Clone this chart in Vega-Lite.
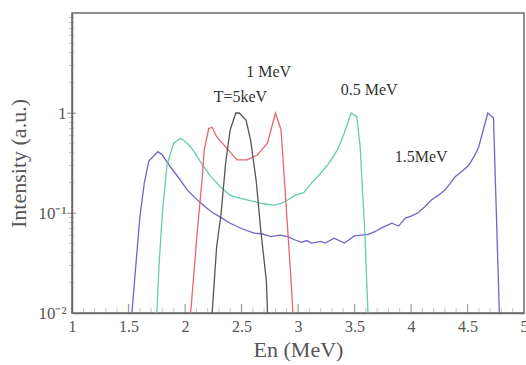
{
  "$schema": "https://vega.github.io/schema/vega-lite/v6.json",
  "width": 452,
  "height": 300,
  "autosize": {"type": "none"},
  "padding": {"left": 72, "top": 13, "right": 2, "bottom": 52},
  "background": "white",
  "config": {
    "view": {"stroke": "#6b6b6b", "strokeWidth": 1.5},
    "font": "Liberation Serif"
  },
  "datasets": {
    "spectra": [
      {"series": "1.5MeV", "E": 1.52, "I": 0.005},
      {"series": "1.5MeV", "E": 1.53, "I": 0.01},
      {"series": "1.5MeV", "E": 1.6, "I": 0.09},
      {"series": "1.5MeV", "E": 1.64, "I": 0.2},
      {"series": "1.5MeV", "E": 1.68, "I": 0.33},
      {"series": "1.5MeV", "E": 1.76, "I": 0.41},
      {"series": "1.5MeV", "E": 1.8, "I": 0.38},
      {"series": "1.5MeV", "E": 1.87, "I": 0.29},
      {"series": "1.5MeV", "E": 1.95, "I": 0.22},
      {"series": "1.5MeV", "E": 2.02, "I": 0.17},
      {"series": "1.5MeV", "E": 2.08, "I": 0.145},
      {"series": "1.5MeV", "E": 2.14, "I": 0.126},
      {"series": "1.5MeV", "E": 2.2, "I": 0.11},
      {"series": "1.5MeV", "E": 2.25, "I": 0.1},
      {"series": "1.5MeV", "E": 2.32, "I": 0.09},
      {"series": "1.5MeV", "E": 2.4, "I": 0.079},
      {"series": "1.5MeV", "E": 2.5, "I": 0.07},
      {"series": "1.5MeV", "E": 2.61, "I": 0.063},
      {"series": "1.5MeV", "E": 2.68, "I": 0.062},
      {"series": "1.5MeV", "E": 2.76, "I": 0.058},
      {"series": "1.5MeV", "E": 2.84, "I": 0.06},
      {"series": "1.5MeV", "E": 2.91, "I": 0.058},
      {"series": "1.5MeV", "E": 2.97, "I": 0.054},
      {"series": "1.5MeV", "E": 3.03, "I": 0.051},
      {"series": "1.5MeV", "E": 3.08, "I": 0.053},
      {"series": "1.5MeV", "E": 3.12, "I": 0.05},
      {"series": "1.5MeV", "E": 3.2, "I": 0.052},
      {"series": "1.5MeV", "E": 3.24, "I": 0.05},
      {"series": "1.5MeV", "E": 3.32, "I": 0.056},
      {"series": "1.5MeV", "E": 3.41, "I": 0.05},
      {"series": "1.5MeV", "E": 3.5, "I": 0.059},
      {"series": "1.5MeV", "E": 3.56, "I": 0.06},
      {"series": "1.5MeV", "E": 3.62, "I": 0.061},
      {"series": "1.5MeV", "E": 3.68, "I": 0.065},
      {"series": "1.5MeV", "E": 3.74, "I": 0.071},
      {"series": "1.5MeV", "E": 3.83, "I": 0.079},
      {"series": "1.5MeV", "E": 3.89, "I": 0.074},
      {"series": "1.5MeV", "E": 3.95, "I": 0.089},
      {"series": "1.5MeV", "E": 4.0, "I": 0.093},
      {"series": "1.5MeV", "E": 4.06, "I": 0.1},
      {"series": "1.5MeV", "E": 4.12, "I": 0.115},
      {"series": "1.5MeV", "E": 4.18, "I": 0.135},
      {"series": "1.5MeV", "E": 4.24, "I": 0.15},
      {"series": "1.5MeV", "E": 4.3, "I": 0.17},
      {"series": "1.5MeV", "E": 4.35, "I": 0.2},
      {"series": "1.5MeV", "E": 4.39, "I": 0.23},
      {"series": "1.5MeV", "E": 4.45, "I": 0.26},
      {"series": "1.5MeV", "E": 4.51, "I": 0.3},
      {"series": "1.5MeV", "E": 4.56, "I": 0.37},
      {"series": "1.5MeV", "E": 4.6, "I": 0.46},
      {"series": "1.5MeV", "E": 4.64, "I": 0.68},
      {"series": "1.5MeV", "E": 4.68, "I": 1.0},
      {"series": "1.5MeV", "E": 4.73, "I": 0.89},
      {"series": "1.5MeV", "E": 4.79, "I": 0.005},

      {"series": "0.5 MeV", "E": 1.745, "I": 0.005},
      {"series": "0.5 MeV", "E": 1.75, "I": 0.01},
      {"series": "0.5 MeV", "E": 1.77, "I": 0.03},
      {"series": "0.5 MeV", "E": 1.8, "I": 0.1},
      {"series": "0.5 MeV", "E": 1.84, "I": 0.3},
      {"series": "0.5 MeV", "E": 1.9, "I": 0.5},
      {"series": "0.5 MeV", "E": 1.96, "I": 0.56},
      {"series": "0.5 MeV", "E": 2.0, "I": 0.52},
      {"series": "0.5 MeV", "E": 2.05, "I": 0.46},
      {"series": "0.5 MeV", "E": 2.1, "I": 0.38},
      {"series": "0.5 MeV", "E": 2.14, "I": 0.32},
      {"series": "0.5 MeV", "E": 2.23, "I": 0.23},
      {"series": "0.5 MeV", "E": 2.32, "I": 0.18},
      {"series": "0.5 MeV", "E": 2.4, "I": 0.15},
      {"series": "0.5 MeV", "E": 2.49, "I": 0.14},
      {"series": "0.5 MeV", "E": 2.55, "I": 0.135},
      {"series": "0.5 MeV", "E": 2.61, "I": 0.13},
      {"series": "0.5 MeV", "E": 2.7, "I": 0.123},
      {"series": "0.5 MeV", "E": 2.79, "I": 0.12},
      {"series": "0.5 MeV", "E": 2.85, "I": 0.125},
      {"series": "0.5 MeV", "E": 2.91, "I": 0.135},
      {"series": "0.5 MeV", "E": 2.97, "I": 0.15},
      {"series": "0.5 MeV", "E": 3.05, "I": 0.16},
      {"series": "0.5 MeV", "E": 3.12, "I": 0.2},
      {"series": "0.5 MeV", "E": 3.2, "I": 0.25},
      {"series": "0.5 MeV", "E": 3.27, "I": 0.31},
      {"series": "0.5 MeV", "E": 3.35, "I": 0.43},
      {"series": "0.5 MeV", "E": 3.41, "I": 0.63},
      {"series": "0.5 MeV", "E": 3.47, "I": 1.0},
      {"series": "0.5 MeV", "E": 3.52, "I": 0.92},
      {"series": "0.5 MeV", "E": 3.55, "I": 0.46},
      {"series": "0.5 MeV", "E": 3.59, "I": 0.068},
      {"series": "0.5 MeV", "E": 3.63, "I": 0.005},

      {"series": "1 MeV", "E": 2.04, "I": 0.005},
      {"series": "1 MeV", "E": 2.05, "I": 0.01},
      {"series": "1 MeV", "E": 2.11, "I": 0.068},
      {"series": "1 MeV", "E": 2.15, "I": 0.21},
      {"series": "1 MeV", "E": 2.17, "I": 0.43},
      {"series": "1 MeV", "E": 2.21, "I": 0.7},
      {"series": "1 MeV", "E": 2.24, "I": 0.72},
      {"series": "1 MeV", "E": 2.28, "I": 0.58},
      {"series": "1 MeV", "E": 2.38, "I": 0.43},
      {"series": "1 MeV", "E": 2.46, "I": 0.34},
      {"series": "1 MeV", "E": 2.55, "I": 0.34},
      {"series": "1 MeV", "E": 2.64, "I": 0.38},
      {"series": "1 MeV", "E": 2.73, "I": 0.5},
      {"series": "1 MeV", "E": 2.8, "I": 1.0},
      {"series": "1 MeV", "E": 2.85, "I": 0.68},
      {"series": "1 MeV", "E": 2.89, "I": 0.145},
      {"series": "1 MeV", "E": 2.94, "I": 0.02},
      {"series": "1 MeV", "E": 2.97, "I": 0.005},

      {"series": "T=5keV", "E": 2.23, "I": 0.005},
      {"series": "T=5keV", "E": 2.24, "I": 0.01},
      {"series": "T=5keV", "E": 2.28, "I": 0.046},
      {"series": "T=5keV", "E": 2.32, "I": 0.1},
      {"series": "T=5keV", "E": 2.36, "I": 0.32},
      {"series": "T=5keV", "E": 2.4, "I": 0.68},
      {"series": "T=5keV", "E": 2.45, "I": 1.0},
      {"series": "T=5keV", "E": 2.48, "I": 1.0},
      {"series": "T=5keV", "E": 2.54, "I": 0.85},
      {"series": "T=5keV", "E": 2.58, "I": 0.54},
      {"series": "T=5keV", "E": 2.63, "I": 0.21},
      {"series": "T=5keV", "E": 2.67, "I": 0.068},
      {"series": "T=5keV", "E": 2.72, "I": 0.021},
      {"series": "T=5keV", "E": 2.74, "I": 0.005}
    ],
    "labels": [
      {"text": "T=5keV", "E": 2.49, "I": 1.45},
      {"text": "1 MeV", "E": 2.74, "I": 2.57},
      {"text": "0.5 MeV", "E": 3.63, "I": 1.7},
      {"text": "1.5MeV", "E": 4.09, "I": 0.363}
    ]
  },
  "layer": [
    {
      "data": {"name": "spectra"},
      "mark": {"type": "line", "clip": true, "strokeWidth": 1.3},
      "encoding": {
        "x": {
          "field": "E", "type": "quantitative",
          "scale": {"domain": [1, 5], "nice": false, "zero": false},
          "axis": {
            "title": "En (MeV)",
            "titleFont": "Liberation Serif", "titleFontSize": 22, "titleFontWeight": "normal", "titleColor": "#555555", "titlePadding": 5,
            "values": [1, 1.5, 2, 2.5, 3, 3.5, 4, 4.5, 5],
            "format": "~g",
            "labelFont": "Liberation Serif", "labelFontSize": 16, "labelColor": "#555555",
            "labelPadding": 5, "labelOverlap": false, "labelFlush": false,
            "ticks": false,
            "domainColor": "#6b6b6b", "domainWidth": 1.5,
            "grid": false
          }
        },
        "y": {
          "field": "I", "type": "quantitative",
          "scale": {"type": "log", "domain": [0.01, 10], "nice": false},
          "axis": {
            "title": "Intensity (a.u.)",
            "titleFont": "Liberation Serif", "titleFontSize": 22, "titleFontWeight": "normal", "titleColor": "#555555", "titlePadding": 7,
            "values": [0.01, 0.1, 1],
            "labelExpr": "abs(datum.value-0.01)<1e-9 ? '10⁻²' : abs(datum.value-0.1)<1e-9 ? '10⁻¹' : '1'",
            "labelFont": "Liberation Serif", "labelFontSize": 17, "labelColor": "#555555",
            "labelPadding": 6, "labelOverlap": false, "labelFlush": false,
            "ticks": false,
            "domainColor": "#6b6b6b", "domainWidth": 1.5,
            "grid": false
          }
        },
        "color": {
          "field": "series", "type": "nominal",
          "scale": {"domain": ["1.5MeV", "0.5 MeV", "1 MeV", "T=5keV"], "range": ["#7066c8", "#63cfa3", "#e8676a", "#555555"]},
          "legend": null
        }
      }
    },
    {
      "data": {"values": [
        {"Ex": 1, "Iy": 0.01, "k": "major"}, {"Ex": 1.1, "Iy": 0.01, "k": "minor"}, {"Ex": 1.2, "Iy": 0.01, "k": "minor"}, {"Ex": 1.3, "Iy": 0.01, "k": "minor"}, {"Ex": 1.4, "Iy": 0.01, "k": "minor"},
        {"Ex": 1.5, "Iy": 0.01, "k": "major"}, {"Ex": 1.6, "Iy": 0.01, "k": "minor"}, {"Ex": 1.7, "Iy": 0.01, "k": "minor"}, {"Ex": 1.8, "Iy": 0.01, "k": "minor"}, {"Ex": 1.9, "Iy": 0.01, "k": "minor"},
        {"Ex": 2, "Iy": 0.01, "k": "major"}, {"Ex": 2.1, "Iy": 0.01, "k": "minor"}, {"Ex": 2.2, "Iy": 0.01, "k": "minor"}, {"Ex": 2.3, "Iy": 0.01, "k": "minor"}, {"Ex": 2.4, "Iy": 0.01, "k": "minor"},
        {"Ex": 2.5, "Iy": 0.01, "k": "major"}, {"Ex": 2.6, "Iy": 0.01, "k": "minor"}, {"Ex": 2.7, "Iy": 0.01, "k": "minor"}, {"Ex": 2.8, "Iy": 0.01, "k": "minor"}, {"Ex": 2.9, "Iy": 0.01, "k": "minor"},
        {"Ex": 3, "Iy": 0.01, "k": "major"}, {"Ex": 3.1, "Iy": 0.01, "k": "minor"}, {"Ex": 3.2, "Iy": 0.01, "k": "minor"}, {"Ex": 3.3, "Iy": 0.01, "k": "minor"}, {"Ex": 3.4, "Iy": 0.01, "k": "minor"},
        {"Ex": 3.5, "Iy": 0.01, "k": "major"}, {"Ex": 3.6, "Iy": 0.01, "k": "minor"}, {"Ex": 3.7, "Iy": 0.01, "k": "minor"}, {"Ex": 3.8, "Iy": 0.01, "k": "minor"}, {"Ex": 3.9, "Iy": 0.01, "k": "minor"},
        {"Ex": 4, "Iy": 0.01, "k": "major"}, {"Ex": 4.1, "Iy": 0.01, "k": "minor"}, {"Ex": 4.2, "Iy": 0.01, "k": "minor"}, {"Ex": 4.3, "Iy": 0.01, "k": "minor"}, {"Ex": 4.4, "Iy": 0.01, "k": "minor"},
        {"Ex": 4.5, "Iy": 0.01, "k": "major"}, {"Ex": 4.6, "Iy": 0.01, "k": "minor"}, {"Ex": 4.7, "Iy": 0.01, "k": "minor"}, {"Ex": 4.8, "Iy": 0.01, "k": "minor"}, {"Ex": 4.9, "Iy": 0.01, "k": "minor"}
      ]},
      "mark": {"type": "text", "text": "|", "font": "DejaVu Sans", "baseline": "bottom", "align": "center", "color": "#6b6b6b"},
      "encoding": {
        "x": {"field": "Ex", "type": "quantitative"},
        "y": {"field": "Iy", "type": "quantitative"},
        "size": {"field": "k", "type": "ordinal", "scale": {"domain": ["major", "minor"], "range": [9, 5]}, "legend": null}
      }
    },
    {
      "data": {"values": [
        {"Ex": 1, "Iy": 0.02, "k": "minor"}, {"Ex": 1, "Iy": 0.03, "k": "minor"}, {"Ex": 1, "Iy": 0.04, "k": "minor"}, {"Ex": 1, "Iy": 0.05, "k": "minor"},
        {"Ex": 1, "Iy": 0.06, "k": "minor"}, {"Ex": 1, "Iy": 0.07, "k": "minor"}, {"Ex": 1, "Iy": 0.08, "k": "minor"}, {"Ex": 1, "Iy": 0.09, "k": "minor"},
        {"Ex": 1, "Iy": 0.1, "k": "major"}, {"Ex": 1, "Iy": 0.2, "k": "minor"}, {"Ex": 1, "Iy": 0.3, "k": "minor"}, {"Ex": 1, "Iy": 0.4, "k": "minor"}, {"Ex": 1, "Iy": 0.5, "k": "minor"},
        {"Ex": 1, "Iy": 0.6, "k": "minor"}, {"Ex": 1, "Iy": 0.7, "k": "minor"}, {"Ex": 1, "Iy": 0.8, "k": "minor"}, {"Ex": 1, "Iy": 0.9, "k": "minor"},
        {"Ex": 1, "Iy": 1, "k": "major"}, {"Ex": 1, "Iy": 2, "k": "minor"}, {"Ex": 1, "Iy": 3, "k": "minor"}, {"Ex": 1, "Iy": 4, "k": "minor"}, {"Ex": 1, "Iy": 5, "k": "minor"},
        {"Ex": 1, "Iy": 6, "k": "minor"}, {"Ex": 1, "Iy": 7, "k": "minor"}, {"Ex": 1, "Iy": 8, "k": "minor"}, {"Ex": 1, "Iy": 9, "k": "minor"}
      ]},
      "mark": {"type": "text", "text": "|", "font": "DejaVu Sans", "baseline": "middle", "align": "center", "angle": 90, "color": "#6b6b6b"},
      "encoding": {
        "x": {"field": "Ex", "type": "quantitative"},
        "y": {"field": "Iy", "type": "quantitative"},
        "size": {"field": "k", "type": "ordinal", "scale": {"domain": ["major", "minor"], "range": [11, 6]}, "legend": null}
      }
    },
    {
      "data": {"name": "labels"},
      "mark": {"type": "text", "font": "Liberation Serif", "fontSize": 16, "color": "#333333", "align": "center", "baseline": "middle"},
      "encoding": {
        "x": {"field": "E", "type": "quantitative"},
        "y": {"field": "I", "type": "quantitative"},
        "text": {"field": "text"}
      }
    }
  ]
}
